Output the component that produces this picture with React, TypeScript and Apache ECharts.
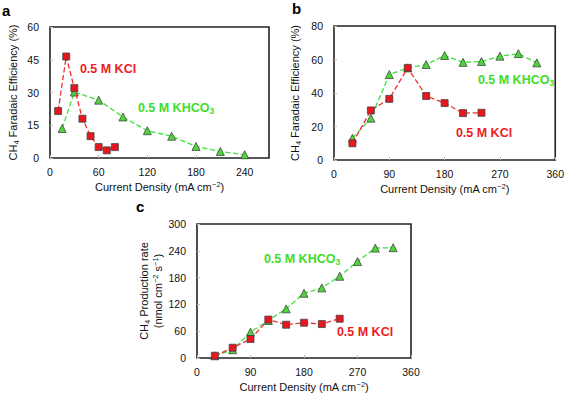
import React, { useEffect, useRef } from 'react';
import * as echarts from 'echarts';

// Panel a
const xA_KCl = [10, 20, 30, 40, 50, 60, 70, 80];
const yA_KCl = [21.5, 46.5, 32, 18, 10, 5, 3.5, 5];
const xA_KHCO3 = [15, 30, 60, 90, 120, 150, 180, 210, 240];
const yA_KHCO3 = [13.5, 30.2, 26.5, 18.8, 12.5, 10, 5.3, 3, 1.5];
// Panel b
const xB_KHCO3 = [30, 60, 90, 120, 150, 180, 210, 240, 270, 300, 330];
const yB_KHCO3 = [13, 25, 51, 55, 57, 62.4, 58.3, 58.8, 62, 63.5, 58];
const xB_KCl = [30, 60, 90, 120, 150, 180, 210, 240];
const yB_KCl = [10, 29.6, 36.5, 55, 38.2, 34, 28, 28.2];
// Panel c
const xC_KHCO3 = [30, 60, 90, 120, 150, 180, 210, 240, 270, 300, 330];
const yC_KHCO3 = [5, 18.5, 58, 84, 110, 145, 157, 183, 216, 246, 247];
const xC_KCl = [30, 60, 90, 120, 150, 180, 210, 240];
const yC_KCl = [5, 23, 42.5, 86, 74.5, 79, 76, 88];

const panelLetters = ['a', 'b', 'c'];
const xAxisTitle = '{t|Current Density (mA cm}{p|−2}{t|)}';
const yTitleFE = '{t|CH}{s|4}{t| Faradaic Efficiency (%)}';
const yTitleRate = '{t|CH}{s|4}{t| Production rate}\n{t|(nmol cm}{p|−2}{t| s}{p|−1}{t|)}';

const zip = (xs: number[], ys: number[]) => xs.map((x, i) => [x, ys[i]]);

const RED = '#ee1c22';
const GREEN = '#3fdc2a';
const FONT = 'Liberation Sans, Arial, sans-serif';

const rich = {
  t: { fontSize: 11, fontFamily: FONT, color: '#111', lineHeight: 14 },
  s: { fontSize: 7.5, fontFamily: FONT, color: '#111', lineHeight: 7, verticalAlign: 'bottom' },
  p: { fontSize: 7.5, fontFamily: FONT, color: '#111', lineHeight: 7, verticalAlign: 'top' },
};

const annRich = (color: string) => ({
  t: { fontSize: 12.5, fontWeight: 'bold', fontFamily: FONT, fill: color, lineHeight: 15 },
  s: { fontSize: 8.5, fontWeight: 'bold', fontFamily: FONT, fill: color, lineHeight: 8, verticalAlign: 'bottom' },
});

export default function App() {
  const ref = useRef<HTMLDivElement>(null);
  useEffect(() => {
    if (!ref.current) return;
    const chart = echarts.init(ref.current, null, { renderer: 'svg' });
    const grids = [
      { left: 50, top: 27, width: 219, height: 131 },
      { left: 334, top: 26, width: 223, height: 134 },
      { left: 197, top: 224, width: 214, height: 134 },
    ].map((g) => ({ ...g, show: true, borderColor: '#222', borderWidth: 1.6, backgroundColor: 'transparent' }));

    const axisCommon = {
      axisLine: { show: false },
      axisTick: { show: true, inside: true, length: 3, lineStyle: { color: '#bbb' } },
      splitLine: { show: false },
    };
    const xAx = (gridIndex: number, max: number, interval: number) => ({
      type: 'value', gridIndex, min: 0, max, interval,
      ...axisCommon,
      axisLabel: { fontSize: 10.5, fontFamily: FONT, color: '#111', margin: 8, showMaxLabel: max % interval === 0 },
      name: xAxisTitle, nameLocation: 'middle', nameGap: 22,
      nameTextStyle: { rich },
    });
    const yAx = (gridIndex: number, max: number, interval: number, name: string, gap: number) => ({
      type: 'value', gridIndex, min: 0, max, interval,
      ...axisCommon,
      axisLabel: { fontSize: 10.5, fontFamily: FONT, color: '#111', margin: 11 },
      name, nameLocation: 'middle', nameGap: gap, nameRotate: 90,
      nameTextStyle: { rich },
    });

    const ser = (xi: number, data: number[][], kcl: boolean) => ({
      type: 'line', xAxisIndex: xi, yAxisIndex: xi, data,
      symbol: kcl ? 'rect' : 'triangle',
      symbolSize: kcl ? 7 : 8,
      lineStyle: { type: 'dashed', width: 1.3, color: kcl ? '#f03030' : '#3ee03a' },
      itemStyle: { color: kcl ? '#e8161e' : '#4cd63a', borderColor: '#444', borderWidth: 0.8 },
      z: kcl ? 3 : 2,
    });

    const ann = (x: number, y: number, text: string, color: string) => ({
      type: 'text', x, y,
      style: { text, rich: annRich(color), fill: color, align: 'center', verticalAlign: 'middle' },
    });
    const letter = (x: number, y: number, t: string) => ({
      type: 'text', x, y,
      style: { text: t, font: `bold 15px ${FONT}`, fill: '#000' },
    });

    chart.setOption({
      animation: false,
      grid: grids,
      xAxis: [xAx(0, 270, 60), xAx(1, 360, 90), xAx(2, 360, 90)],
      yAxis: [
        yAx(0, 60, 15, yTitleFE, 30),
        yAx(1, 80, 20, yTitleFE, 32),
        yAx(2, 300, 60, yTitleRate, 32),
      ],
      series: [
        ser(0, zip(xA_KHCO3, yA_KHCO3), false),
        ser(0, zip(xA_KCl, yA_KCl), true),
        ser(1, zip(xB_KHCO3, yB_KHCO3), false),
        ser(1, zip(xB_KCl, yB_KCl), true),
        ser(2, zip(xC_KHCO3, yC_KHCO3), false),
        ser(2, zip(xC_KCl, yC_KCl), true),
      ],
      graphic: [
        letter(2, 3, panelLetters[0]),
        letter(292, 1, panelLetters[1]),
        letter(136, 199, panelLetters[2]),
        ann(108, 69, '{t|0.5 M KCl}', RED),
        ann(176, 108, '{t|0.5 M KHCO}{s|3}', GREEN),
        ann(516, 80, '{t|0.5 M KHCO}{s|3}', GREEN),
        ann(484, 133, '{t|0.5 M KCl}', RED),
        ann(302, 259, '{t|0.5 M KHCO}{s|3}', GREEN),
        ann(365, 332, '{t|0.5 M KCl}', RED),
      ],
    });
    return () => chart.dispose();
  }, []);
  return <div ref={ref} style={{ position: 'fixed', left: 0, top: 0, width: 567, height: 394, background: '#fff' }} />;
}
